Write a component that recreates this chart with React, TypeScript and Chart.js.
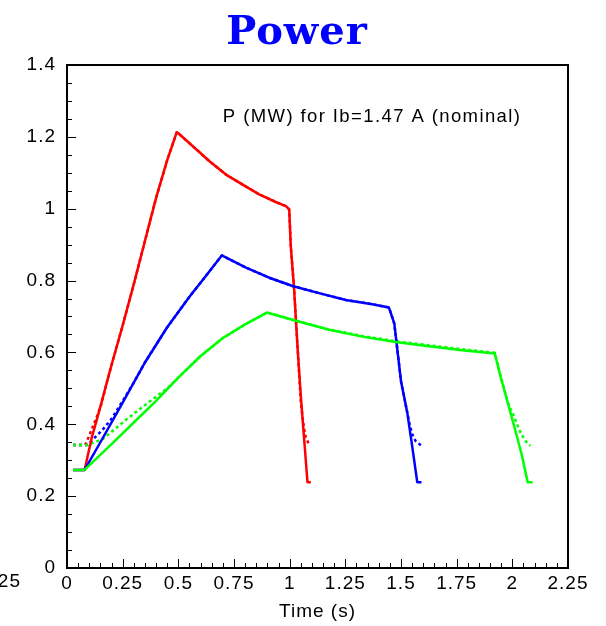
import React, { useEffect, useRef } from "react";
import { Chart, registerables } from "chart.js";

Chart.register(...registerables);

const TITLE = "Power";
const X_TITLE = "Time (s)";
const ANNOTATION = "P (MW) for Ib=1.47 A (nominal)";
const STRAY_LABEL = "-0.25";

const X_MIN = 0;
const X_MAX = 2.25;
const X_STEP = 0.25;
const Y_MIN = 0;
const Y_MAX = 1.4;
const Y_STEP = 0.2;

// [time (s), power (MW)]
const redSolid: [number, number][] = [
  [0.027, 0.273], [0.079, 0.273], [0.11, 0.36], [0.146, 0.44], [0.2, 0.565],
  [0.25, 0.675], [0.3, 0.79], [0.35, 0.91], [0.4, 1.03], [0.45, 1.135],
  [0.493, 1.213], [0.5, 1.21], [0.565, 1.174], [0.64, 1.132], [0.714, 1.095],
  [0.789, 1.067], [0.863, 1.04], [0.94, 1.018], [0.983, 1.007], [0.998, 0.998],
  [1.005, 0.896], [1.02, 0.776], [1.035, 0.618], [1.05, 0.479], [1.065, 0.359],
  [1.08, 0.239], [1.095, 0.239],
];
const redDotted: [number, number][] = [
  [0.027, 0.3425], [0.082, 0.3425], [0.109, 0.382], [0.13, 0.415], [0.154, 0.455],
  [0.178, 0.515], [0.2, 0.565], [0.25, 0.675], [0.3, 0.79], [0.35, 0.91],
  [0.4, 1.03], [0.45, 1.135], [0.493, 1.213], [0.5, 1.21], [0.565, 1.174],
  [0.64, 1.132], [0.714, 1.095], [0.789, 1.067], [0.863, 1.04], [0.94, 1.018],
  [0.983, 1.007], [0.998, 0.998], [1.005, 0.896], [1.02, 0.776], [1.035, 0.618],
  [1.05, 0.461], [1.057, 0.424], [1.065, 0.387], [1.072, 0.364], [1.09, 0.34],
];
const blueSolid: [number, number][] = [
  [0.027, 0.273], [0.079, 0.273], [0.15, 0.35], [0.25, 0.46], [0.35, 0.572],
  [0.45, 0.67], [0.55, 0.755], [0.62, 0.81], [0.695, 0.87], [0.804, 0.836],
  [0.908, 0.808], [1.013, 0.785], [1.132, 0.765], [1.252, 0.746], [1.371, 0.734],
  [1.446, 0.725], [1.47, 0.68], [1.485, 0.6], [1.5, 0.52], [1.528, 0.433],
  [1.55, 0.34], [1.573, 0.239], [1.592, 0.239],
];
const blueDotted: [number, number][] = [
  [0.027, 0.3425], [0.092, 0.3425], [0.12, 0.36], [0.16, 0.385], [0.2, 0.415],
  [0.25, 0.465], [0.3, 0.516], [0.35, 0.572], [0.45, 0.67], [0.55, 0.755],
  [0.62, 0.81], [0.695, 0.87], [0.804, 0.836], [0.908, 0.808], [1.013, 0.785],
  [1.132, 0.765], [1.252, 0.746], [1.371, 0.734], [1.446, 0.725], [1.47, 0.68],
  [1.485, 0.6], [1.5, 0.52], [1.528, 0.433], [1.537, 0.405], [1.55, 0.373],
  [1.565, 0.354], [1.592, 0.34],
];
const greenSolid: [number, number][] = [
  [0.027, 0.273], [0.079, 0.273], [0.2, 0.345], [0.3, 0.405], [0.4, 0.465],
  [0.5, 0.53], [0.6, 0.59], [0.7, 0.64], [0.8, 0.678], [0.898, 0.711],
  [1.028, 0.688], [1.177, 0.663], [1.326, 0.644], [1.476, 0.629], [1.625, 0.617],
  [1.774, 0.606], [1.921, 0.597], [1.95, 0.526], [1.983, 0.452], [2.02, 0.368],
  [2.043, 0.313], [2.069, 0.239], [2.091, 0.239],
];
const greenDotted: [number, number][] = [
  [0.027, 0.3425], [0.093, 0.3425], [0.161, 0.359], [0.266, 0.413], [0.37, 0.463],
  [0.45, 0.5], [0.5, 0.53], [0.6, 0.59], [0.7, 0.64], [0.8, 0.678],
  [0.898, 0.711], [1.028, 0.688], [1.177, 0.664], [1.326, 0.646], [1.476, 0.631],
  [1.625, 0.62], [1.774, 0.609], [1.921, 0.599], [1.95, 0.528], [1.983, 0.455],
  [2.006, 0.424], [2.036, 0.378], [2.058, 0.354], [2.081, 0.34],
];

const RED = "#ff0000";
const BLUE = "#0000ff";
const GREEN = "#00ff00";
const SANS = '"Liberation Sans", Arial, Helvetica, sans-serif';

const fmt = (v: number) => String(Math.round(v * 100) / 100);
const toXY = (pts: [number, number][]) => pts.map(([x, y]) => ({ x, y }));

const framePlugin = {
  id: "rootFrame",
  beforeDraw(chart: any) {
    (chart.ctx as any).letterSpacing = "1px";
  },
  afterDraw(chart: any) {
    const { ctx, chartArea: a, scales } = chart;
    const xs = scales.x;
    const ys = scales.y;
    ctx.save();
    ctx.strokeStyle = "#000";
    ctx.lineWidth = 1;
    const xMinor = X_STEP / 5;
    const nx = Math.round((X_MAX - X_MIN) / xMinor);
    for (let i = 0; i <= nx; i++) {
      const px = Math.round(xs.getPixelForValue(X_MIN + i * xMinor)) + 0.5;
      const len = i % 5 === 0 ? 9 : 5;
      ctx.beginPath();
      ctx.moveTo(px, a.bottom);
      ctx.lineTo(px, a.bottom - len);
      ctx.stroke();
    }
    const yMinor = Y_STEP / 4;
    const ny = Math.round((Y_MAX - Y_MIN) / yMinor);
    for (let i = 0; i <= ny; i++) {
      const py = Math.round(ys.getPixelForValue(Y_MIN + i * yMinor)) + 0.5;
      const len = i % 4 === 0 ? 9 : 5;
      ctx.beginPath();
      ctx.moveTo(a.left, py);
      ctx.lineTo(a.left + len, py);
      ctx.stroke();
    }
    ctx.lineWidth = 2;
    ctx.strokeRect(a.left, a.top, a.right - a.left, a.bottom - a.top);

    ctx.fillStyle = "#000";
    (ctx as any).letterSpacing = "1.4px";
    ctx.font = `18.5px ${SANS}`;
    ctx.textAlign = "left";
    ctx.textBaseline = "alphabetic";
    ctx.fillText(ANNOTATION, xs.getPixelForValue(0.7), ys.getPixelForValue(1.24));

    (ctx as any).letterSpacing = "1px";
    ctx.font = `19px ${SANS}`;
    ctx.textAlign = "right";
    ctx.textBaseline = "middle";
    ctx.fillText(STRAY_LABEL, 21, a.bottom + 14);
    ctx.restore();
  },
};

export default function App() {
  const ref = useRef<HTMLCanvasElement | null>(null);
  useEffect(() => {
    document.body.style.margin = "0";
    const canvas = ref.current!;
    const line = (pts: [number, number][], color: string, dotted: boolean) => ({
      data: toXY(pts),
      borderColor: color,
      backgroundColor: color,
      borderWidth: 2.5,
      borderDash: dotted ? [3, 3] : [],
      pointRadius: 0,
      tension: 0,
      fill: false,
      borderJoinStyle: "round" as const,
    });
    const chart = new Chart(canvas, {
      type: "line",
      data: {
        datasets: [
          line(greenSolid, GREEN, false),
          line(blueSolid, BLUE, false),
          line(redSolid, RED, false),
          line(greenDotted, GREEN, true),
          line(blueDotted, BLUE, true),
          line(redDotted, RED, true),
        ],
      },
      options: {
        responsive: false,
        animation: false,
        devicePixelRatio: 1,
        layout: { padding: { left: 0, right: 12, top: 0, bottom: 0 } },
        plugins: {
          legend: { display: false },
          tooltip: { enabled: false },
          title: {
            display: true,
            text: TITLE,
            color: BLUE,
            font: { family: '"DejaVu Serif", serif', size: 40, weight: "bold" },
            padding: { top: 10, bottom: 7 },
          },
        },
        scales: {
          x: {
            type: "linear",
            min: X_MIN,
            max: X_MAX,
            ticks: {
              stepSize: X_STEP,
              color: "#000",
              font: { family: SANS, size: 19 },
              padding: 4,
              maxRotation: 0,
              autoSkip: false,
              callback: (v: any) => fmt(Number(v)),
            },
            grid: { display: false, drawTicks: false },
            border: { display: false },
            title: {
              display: true,
              text: X_TITLE,
              color: "#000",
              font: { family: SANS, size: 19 },
              padding: { top: 0, bottom: 3 },
            },
            afterFit: (s: any) => {
              s.height = 58;
            },
          },
          y: {
            type: "linear",
            min: Y_MIN,
            max: Y_MAX,
            ticks: {
              stepSize: Y_STEP,
              color: "#000",
              font: { family: SANS, size: 19 },
              padding: 11,
              autoSkip: false,
              callback: (v: any) => fmt(Number(v)),
            },
            grid: { display: false, drawTicks: false },
            border: { display: false },
            afterFit: (s: any) => {
              s.width = 67;
            },
          },
          yRight: {
            type: "linear",
            position: "right",
            display: true,
            ticks: { display: false },
            grid: { display: false, drawTicks: false },
            border: { display: false },
            afterFit: (s: any) => {
              s.width = 26;
            },
          },
        },
      },
      plugins: [framePlugin],
    });
    return () => chart.destroy();
  }, []);
  return (
    <div style={{ position: "absolute", left: 0, top: 0, width: 606, height: 626 }}>
      <canvas ref={ref} width={606} height={626} style={{ width: 606, height: 626 }} />
    </div>
  );
}
